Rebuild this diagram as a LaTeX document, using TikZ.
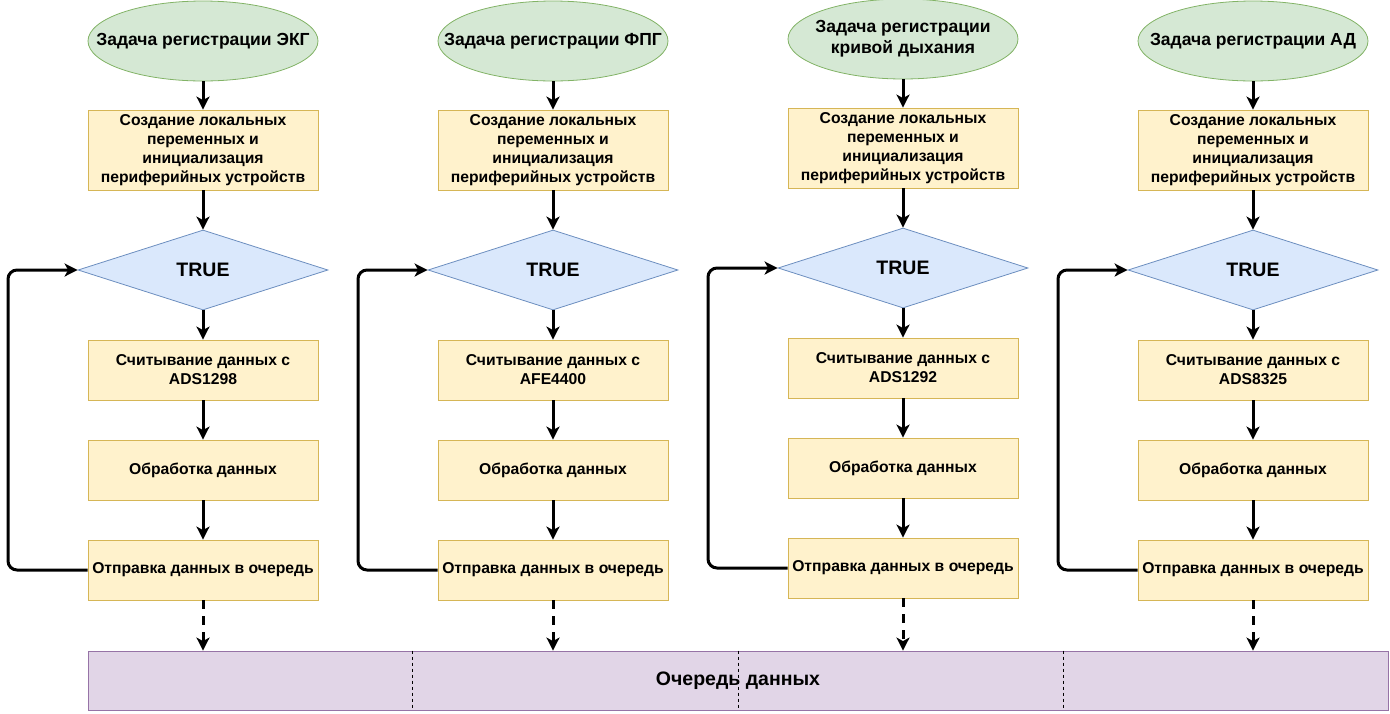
\documentclass[tikz,border=0pt]{standalone}
\usepackage{fontspec}
\setmainfont{Liberation Sans}
\usetikzlibrary{arrows.meta,shapes.geometric,calc}
\definecolor{gfill}{HTML}{D5E8D4}
\definecolor{gline}{HTML}{82B366}
\definecolor{yfill}{HTML}{FFF2CC}
\definecolor{yline}{HTML}{D6B656}
\definecolor{bfill}{HTML}{DAE8FC}
\definecolor{bline}{HTML}{6C8EBF}
\definecolor{pfill}{HTML}{E1D5E7}
\definecolor{pline}{HTML}{9673A6}
\newcommand{\zerotext}[1]{\makebox[0pt]{\begin{tabular}{@{}c@{}}#1\end{tabular}}}
\begin{document}
\begin{tikzpicture}[x=1pt,y=-1pt,
  term/.style={ellipse, draw=gline, fill=gfill, line width=0.8pt, minimum width=230pt, minimum height=80pt, inner sep=0pt, font=\bfseries\fontsize{17.5}{20.5}\selectfont},
  proc/.style={rectangle, draw=yline, fill=yfill, line width=0.8pt, minimum width=230pt, inner sep=0pt, align=center, font=\bfseries\fontsize{15.7}{19}\selectfont},
  dec/.style={diamond, draw=bline, fill=bfill, line width=0.8pt, minimum width=250pt, minimum height=80pt, shape aspect=3.125, inner sep=0pt, font=\bfseries\fontsize{19.5}{22}\selectfont},
  queue/.style={rectangle, draw=pline, fill=pfill, line width=0.8pt, minimum width=1300pt, minimum height=59pt, inner sep=0pt, font=\bfseries\fontsize{19.5}{22}\selectfont},
  flow/.style={draw=black, line width=3pt, -{Stealth[length=13pt,width=13pt,inset=3.5pt]}},
  dflow/.style={flow, dash pattern=on 9pt off 7pt},
  divider/.style={draw=black, line width=0.8pt, dash pattern=on 3pt off 3pt}
]
\useasboundingbox (0,0) rectangle (1390,713);
\foreach \i/\x/\dy/\title/\chip in {1/203/0/{Задача регистрации ЭКГ}/ADS1298, 2/553/0/{Задача регистрации ФПГ}/AFE4400, 3/903/-2/{Задача регистрации\\кривой дыхания}/ADS1292, 4/1253/0/{Задача регистрации АД}/ADS8325}{
  \node[term] (e\i) at (\x,41+\dy) {\zerotext{\title}};
  \node[proc, minimum height=80pt] (c\i) at (\x,150+\dy) {Создание локальных\\переменных и\\инициализация\\периферийных устройств};
  \node[dec] (d\i) at (\x,270+\dy) {TRUE};
  \node[proc, minimum height=60pt] (r\i) at (\x,370+\dy) {Считывание данных с\\\chip};
  \node[proc, minimum height=60pt] (p\i) at (\x,470+\dy) {Обработка данных};
  \node[proc, minimum height=60pt] (s\i) at (\x,570+\dy) {Отправка данных в очередь};
  \coordinate (l\i) at (\x-195,270+\dy);
  \draw[flow] (e\i) -- (c\i);
  \draw[flow] (c\i) -- (d\i);
  \draw[flow] (d\i) -- (r\i);
  \draw[flow] (r\i) -- (p\i);
  \draw[flow] (p\i) -- (s\i);
  \draw[flow, rounded corners=9pt] (s\i.west) -| (l\i) -- (d\i.west);
}
\node[queue] (q) at (738,680.5) {Очередь данных};
\foreach \f in {0.25,0.5,0.75}{
  \draw[divider] ($(q.north west)!\f!(q.north east)$) -- ($(q.south west)!\f!(q.south east)$);
}
\foreach \i in {1,2,3,4}{
  \draw[dflow] (s\i.south) -- (s\i.south |- q.north);
}
\end{tikzpicture}
\end{document}
